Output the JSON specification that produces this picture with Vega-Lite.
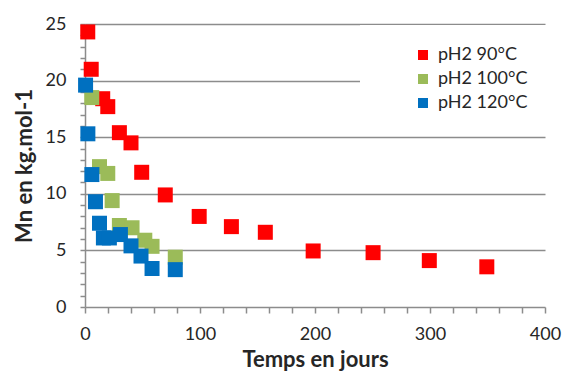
{
  "$schema": "https://vega.github.io/schema/vega-lite/v6.json",
  "width": 460,
  "height": 283,
  "autosize": {"type": "none"},
  "padding": {"left": 85, "top": 24, "right": 21, "bottom": 69},
  "background": "white",
  "config": {
    "view": {"stroke": null},
    "font": "Lato",
    "axis": {"labelFont": "Lato", "titleFont": "Lato", "labelFontSize": 18, "titleFontSize": 22, "labelColor": "#262626", "titleColor": "#262626", "titleFontWeight": "bold"}
  },
  "data": {"values": [
    {"serie": "pH2 90°C", "t": 2.4, "mn": 24.3},
    {"serie": "pH2 90°C", "t": 5.4, "mn": 21.0},
    {"serie": "pH2 90°C", "t": 15.4, "mn": 18.4},
    {"serie": "pH2 90°C", "t": 19.8, "mn": 17.7},
    {"serie": "pH2 90°C", "t": 29.9, "mn": 15.4},
    {"serie": "pH2 90°C", "t": 40, "mn": 14.5},
    {"serie": "pH2 90°C", "t": 49.3, "mn": 11.9},
    {"serie": "pH2 90°C", "t": 69.8, "mn": 9.9},
    {"serie": "pH2 90°C", "t": 99.3, "mn": 8.0},
    {"serie": "pH2 90°C", "t": 127.3, "mn": 7.1},
    {"serie": "pH2 90°C", "t": 156.8, "mn": 6.6},
    {"serie": "pH2 90°C", "t": 198.4, "mn": 4.95},
    {"serie": "pH2 90°C", "t": 250.5, "mn": 4.8},
    {"serie": "pH2 90°C", "t": 299.4, "mn": 4.1},
    {"serie": "pH2 90°C", "t": 349.4, "mn": 3.55},
    {"serie": "pH2 100°C", "t": 5.9, "mn": 18.5},
    {"serie": "pH2 100°C", "t": 12.6, "mn": 12.4},
    {"serie": "pH2 100°C", "t": 19.8, "mn": 11.8},
    {"serie": "pH2 100°C", "t": 23.6, "mn": 9.4},
    {"serie": "pH2 100°C", "t": 29.9, "mn": 7.2},
    {"serie": "pH2 100°C", "t": 40.9, "mn": 7.0},
    {"serie": "pH2 100°C", "t": 52, "mn": 5.9},
    {"serie": "pH2 100°C", "t": 58.3, "mn": 5.36},
    {"serie": "pH2 100°C", "t": 78.5, "mn": 4.4},
    {"serie": "pH2 120°C", "t": 0.5, "mn": 19.6},
    {"serie": "pH2 120°C", "t": 2.5, "mn": 15.3},
    {"serie": "pH2 120°C", "t": 6.0, "mn": 11.7},
    {"serie": "pH2 120°C", "t": 9.1, "mn": 9.3},
    {"serie": "pH2 120°C", "t": 12.6, "mn": 7.4},
    {"serie": "pH2 120°C", "t": 16.0, "mn": 6.1},
    {"serie": "pH2 120°C", "t": 21.2, "mn": 6.1},
    {"serie": "pH2 120°C", "t": 30.8, "mn": 6.4},
    {"serie": "pH2 120°C", "t": 40.0, "mn": 5.4},
    {"serie": "pH2 120°C", "t": 48.7, "mn": 4.5},
    {"serie": "pH2 120°C", "t": 58.3, "mn": 3.4},
    {"serie": "pH2 120°C", "t": 78.5, "mn": 3.3}
  ]},
  "mark": {"type": "square", "size": 225, "opacity": 1, "filled": true},
  "encoding": {
    "x": {
      "field": "t", "type": "quantitative",
      "scale": {"domain": [0, 400], "nice": false},
      "axis": {
        "title": "Temps en jours",
        "values": [0,20,40,60,80,100,120,140,160,180,200,220,240,260,280,300,320,340,360,380,400],
        "labelExpr": "datum.value % 100 === 0 ? datum.label : ''",
        "grid": false,
        "domainColor": "#8c8c8c", "domainWidth": 1.5,
        "tickColor": "#8c8c8c", "tickWidth": 1.5, "tickSize": 6,
        "labelPadding": 12, "titlePadding": 6,
        "labelFlush": false, "labelOverlap": false
      }
    },
    "y": {
      "field": "mn", "type": "quantitative",
      "scale": {"domain": [0, 25], "nice": false},
      "axis": {
        "title": "Mn en kg.mol-1",
        "values": [0,1,2,3,4,5,6,7,8,9,10,11,12,13,14,15,16,17,18,19,20,21,22,23,24,25],
        "labelExpr": "datum.value % 5 === 0 ? datum.label : ''",
        "grid": true,
        "gridColor": "#8c8c8c", "gridWidth": 1.5,
        "gridOpacity": {"condition": {"test": "datum.value % 5 === 0 && datum.value > 0", "value": 1}, "value": 0},
        "domainColor": "#8c8c8c", "domainWidth": 1.5,
        "tickColor": "#8c8c8c", "tickWidth": 1.5, "tickSize": 5,
        "labelPadding": 14, "titlePadding": 9,
        "labelFlush": false, "labelOverlap": false
      }
    },
    "color": {
      "field": "serie", "type": "nominal",
      "scale": {"domain": ["pH2 90°C", "pH2 100°C", "pH2 120°C"], "range": ["#ff0000", "#9bbb59", "#0070c0"]},
      "legend": {
        "title": " ",
        "titleOrient": "left",
        "titlePadding": 33,
        "orient": "none",
        "legendX": 275,
        "legendY": 1,
        "fillColor": "white",
        "padding": 21,
        "symbolType": "square",
        "symbolSize": 100,
        "symbolOpacity": 1,
        "labelFont": "Lato",
        "labelFontSize": 18,
        "labelColor": "#262626",
        "rowPadding": 6,
        "labelOffset": 6
      }
    }
  }
}
